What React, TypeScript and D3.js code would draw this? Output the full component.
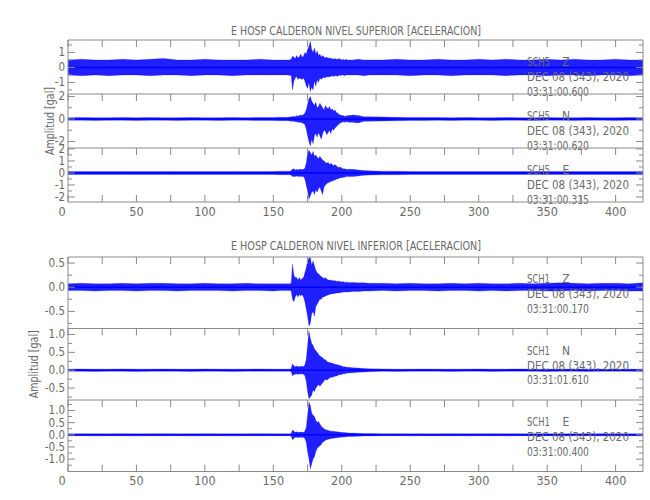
import React from "react";
import * as d3 from "d3";

// ---------- DATA (envelope of each trace, gal) ----------
// time samples (s): 0..150 by 10, 155, 160..205 by 1, 208..220 by 4, 230..420 by 10
const TIME = [
  0, 10, 20, 30, 40, 50, 60, 70, 80, 90, 100, 110, 120, 130, 140, 150, 155,
  160, 161, 162, 163, 164, 165, 166, 167, 168, 169,
  170, 171, 172, 173, 174, 175, 176, 177, 178, 179,
  180, 181, 182, 183, 184, 185, 186, 187, 188, 189,
  190, 191, 192, 193, 194, 195, 196, 197, 198, 199,
  200, 201, 202, 203, 204, 205,
  208, 212, 216, 220,
  230, 240, 250, 260, 270, 280, 290, 300, 310, 320, 330, 340, 350, 360, 370, 380, 390, 400, 410, 420,
];

// SUPERIOR  SCH5 Z
const SUP_Z_MAX = [
  0.5, 0.55, 0.5, 0.5, 0.55, 0.5, 0.55, 0.6, 0.5, 0.5, 0.55, 0.5, 0.5, 0.5, 0.55, 0.5, 0.5,
  0.5, 0.5, 0.5, 0.55, 0.75, 0.7, 0.6, 0.8, 0.65, 0.7,
  0.9, 0.7, 0.75, 1.0, 0.9, 1.2, 1.4, 1.75, 1.2, 1.0,
  1.3, 0.9, 1.1, 0.8, 0.9, 0.7, 0.8, 0.7, 0.65, 0.7,
  0.6, 0.65, 0.6, 0.6, 0.55, 0.6, 0.55, 0.55, 0.6, 0.55,
  0.5, 0.55, 0.5, 0.55, 0.5, 0.5,
  0.5, 0.55, 0.5, 0.5,
  0.5, 0.55, 0.5, 0.5, 0.55, 0.5, 0.5, 0.55, 0.5, 0.55, 0.5, 0.5, 0.55, 0.5, 0.55, 0.5, 0.5, 0.55, 0.5, 0.5,
];
const SUP_Z_MIN = [
  -0.5, -0.55, -0.5, -0.55, -0.5, -0.5, -0.55, -0.5, -0.5, -0.55, -0.5, -0.5, -0.55, -0.5, -0.5, -0.5, -0.5,
  -0.5, -0.5, -0.55, -0.5, -1.5, -0.9, -0.7, -0.6, -0.8, -0.7,
  -0.75, -0.8, -0.7, -0.9, -1.2, -1.4, -1.0, -1.6, -1.3, -1.5,
  -0.9, -1.25, -0.8, -1.0, -0.7, -0.8, -0.7, -0.65, -0.7, -0.6,
  -0.65, -0.6, -0.6, -0.55, -0.6, -0.55, -0.55, -0.6, -0.5, -0.55,
  -0.5, -0.5, -0.55, -0.5, -0.5, -0.5,
  -0.5, -0.5, -0.55, -0.5,
  -0.5, -0.5, -0.55, -0.5, -0.5, -0.55, -0.5, -0.5, -0.5, -0.55, -0.5, -0.5, -0.55, -0.5, -0.5, -0.55, -0.5, -0.5, -0.55, -0.5,
];

// SUPERIOR  SCH5 N
const SUP_N_MAX = [
  0.12, 0.13, 0.12, 0.12, 0.14, 0.12, 0.13, 0.12, 0.12, 0.13, 0.12, 0.12, 0.13, 0.12, 0.13, 0.14, 0.15,
  0.15, 0.15, 0.18, 0.2, 0.2, 0.25, 0.2, 0.3, 0.25, 0.3,
  0.35, 0.3, 0.4, 0.5, 0.8, 1.3, 1.8, 2.0, 1.6, 1.4,
  1.2, 1.5, 1.0, 1.1, 1.4, 1.2, 1.0, 0.8, 1.2, 1.0,
  0.9, 1.1, 0.8, 0.9, 0.7, 0.8, 0.6, 0.5, 0.4, 0.35,
  0.3, 0.3, 0.25, 0.25, 0.3, 0.3,
  0.35, 0.3, 0.2, 0.2,
  0.18, 0.15, 0.14, 0.13, 0.13, 0.12, 0.13, 0.12, 0.12, 0.13, 0.12, 0.12, 0.13, 0.12, 0.12, 0.13, 0.12, 0.12, 0.13, 0.12,
];
const SUP_N_MIN = [
  -0.12, -0.12, -0.13, -0.12, -0.12, -0.13, -0.12, -0.12, -0.13, -0.12, -0.12, -0.13, -0.12, -0.12, -0.13, -0.14, -0.15,
  -0.15, -0.15, -0.18, -0.2, -0.2, -0.2, -0.25, -0.25, -0.3, -0.3,
  -0.3, -0.35, -0.4, -0.5, -0.9, -1.5, -2.0, -2.4, -1.8, -2.2,
  -1.5, -1.3, -1.6, -1.2, -1.5, -1.8, -1.3, -1.0, -1.1, -1.4,
  -1.2, -1.0, -1.3, -0.9, -1.0, -0.8, -0.7, -0.55, -0.45, -0.35,
  -0.3, -0.25, -0.3, -0.25, -0.25, -0.3,
  -0.3, -0.35, -0.2, -0.2,
  -0.18, -0.15, -0.14, -0.13, -0.12, -0.13, -0.12, -0.12, -0.13, -0.12, -0.12, -0.13, -0.12, -0.12, -0.13, -0.12, -0.12, -0.13, -0.12, -0.12,
];

// SUPERIOR  SCH5 E
const SUP_E_MAX = [
  0.12, 0.13, 0.12, 0.12, 0.13, 0.12, 0.12, 0.13, 0.12, 0.12, 0.13, 0.12, 0.12, 0.13, 0.12, 0.13, 0.14,
  0.15, 0.15, 0.15, 0.2, 0.3, 0.35, 0.25, 0.3, 0.25, 0.3,
  0.3, 0.28, 0.3, 0.4, 0.8, 1.6, 1.9, 1.7, 1.5, 1.8,
  1.4, 1.5, 1.3, 1.2, 1.4, 1.2, 1.1, 1.0, 0.9, 0.8,
  0.9, 0.7, 0.8, 0.7, 0.6, 0.7, 0.6, 0.5, 0.45, 0.5,
  0.4, 0.35, 0.35, 0.3, 0.3, 0.3,
  0.3, 0.25, 0.2, 0.18,
  0.15, 0.14, 0.13, 0.12, 0.13, 0.12, 0.12, 0.13, 0.12, 0.12, 0.13, 0.12, 0.12, 0.13, 0.12, 0.12, 0.13, 0.12, 0.12, 0.13,
];
const SUP_E_MIN = [
  -0.12, -0.12, -0.13, -0.12, -0.12, -0.13, -0.12, -0.12, -0.13, -0.12, -0.12, -0.13, -0.12, -0.12, -0.13, -0.13, -0.14,
  -0.15, -0.15, -0.15, -0.2, -0.3, -0.3, -0.3, -0.25, -0.3, -0.28,
  -0.3, -0.3, -0.3, -0.5, -1.0, -1.5, -2.2, -1.9, -1.6, -1.5,
  -1.8, -1.4, -1.6, -1.3, -1.2, -1.5, -1.8, -1.2, -1.0, -0.9,
  -0.8, -0.8, -0.7, -0.7, -0.6, -0.6, -0.5, -0.5, -0.45, -0.4,
  -0.4, -0.35, -0.35, -0.3, -0.3, -0.3,
  -0.3, -0.25, -0.2, -0.18,
  -0.15, -0.14, -0.13, -0.12, -0.12, -0.13, -0.12, -0.12, -0.13, -0.12, -0.12, -0.13, -0.12, -0.12, -0.13, -0.12, -0.12, -0.13, -0.12, -0.12,
];

// INFERIOR  SCH1 Z
const INF_Z_MAX = [
  0.07, 0.08, 0.07, 0.07, 0.08, 0.07, 0.08, 0.08, 0.07, 0.07, 0.08, 0.07, 0.07, 0.08, 0.07, 0.07, 0.07,
  0.07, 0.07, 0.07, 0.08, 0.48, 0.25, 0.2, 0.2, 0.15, 0.2,
  0.15, 0.18, 0.2, 0.3, 0.4, 0.55, 0.6, 0.62, 0.45, 0.55,
  0.45, 0.35, 0.3, 0.28, 0.25, 0.22, 0.2, 0.18, 0.2, 0.17,
  0.15, 0.15, 0.14, 0.15, 0.13, 0.14, 0.12, 0.13, 0.12, 0.12,
  0.11, 0.12, 0.1, 0.11, 0.1, 0.1,
  0.1, 0.09, 0.09, 0.08,
  0.08, 0.07, 0.08, 0.07, 0.07, 0.08, 0.07, 0.08, 0.07, 0.07, 0.08, 0.07, 0.08, 0.09, 0.08, 0.07, 0.08, 0.08, 0.07, 0.09,
];
const INF_Z_MIN = [
  -0.07, -0.07, -0.08, -0.07, -0.07, -0.08, -0.07, -0.07, -0.08, -0.07, -0.07, -0.07, -0.08, -0.07, -0.07, -0.08, -0.07,
  -0.07, -0.07, -0.07, -0.08, -0.25, -0.3, -0.2, -0.15, -0.2, -0.15,
  -0.18, -0.15, -0.2, -0.3, -0.45, -0.6, -0.8, -0.75, -0.55, -0.5,
  -0.6, -0.4, -0.35, -0.3, -0.25, -0.25, -0.2, -0.2, -0.18, -0.17,
  -0.16, -0.15, -0.14, -0.14, -0.13, -0.13, -0.12, -0.12, -0.12, -0.11,
  -0.11, -0.1, -0.1, -0.1, -0.1, -0.1,
  -0.09, -0.09, -0.08, -0.08,
  -0.07, -0.08, -0.07, -0.07, -0.08, -0.07, -0.07, -0.08, -0.07, -0.08, -0.07, -0.07, -0.08, -0.08, -0.07, -0.08, -0.07, -0.07, -0.08, -0.08,
];

// INFERIOR  SCH1 N
const INF_N_MAX = [
  0.03, 0.035, 0.03, 0.03, 0.035, 0.03, 0.03, 0.035, 0.03, 0.03, 0.035, 0.03, 0.03, 0.03, 0.035, 0.03, 0.03,
  0.03, 0.03, 0.03, 0.04, 0.18, 0.12, 0.1, 0.12, 0.1, 0.11,
  0.1, 0.12, 0.1, 0.15, 0.3, 0.7, 1.1, 0.9, 0.75, 0.7,
  0.6, 0.55, 0.5, 0.45, 0.4, 0.38, 0.35, 0.3, 0.3, 0.25,
  0.22, 0.22, 0.2, 0.2, 0.18, 0.17, 0.16, 0.15, 0.14, 0.13,
  0.12, 0.1, 0.1, 0.09, 0.08, 0.08,
  0.07, 0.06, 0.05, 0.04,
  0.035, 0.03, 0.03, 0.035, 0.03, 0.03, 0.03, 0.035, 0.03, 0.03, 0.035, 0.03, 0.03, 0.03, 0.035, 0.03, 0.03, 0.035, 0.03, 0.03,
];
const INF_N_MIN = [
  -0.03, -0.03, -0.035, -0.03, -0.03, -0.035, -0.03, -0.03, -0.03, -0.035, -0.03, -0.03, -0.035, -0.03, -0.03, -0.03, -0.03,
  -0.03, -0.03, -0.03, -0.04, -0.16, -0.12, -0.11, -0.1, -0.12, -0.1,
  -0.11, -0.1, -0.12, -0.15, -0.3, -0.6, -0.8, -0.75, -0.7, -0.55,
  -0.6, -0.5, -0.45, -0.4, -0.45, -0.4, -0.35, -0.3, -0.25, -0.28,
  -0.25, -0.22, -0.2, -0.2, -0.18, -0.17, -0.16, -0.15, -0.13, -0.12,
  -0.12, -0.1, -0.1, -0.09, -0.08, -0.08,
  -0.07, -0.06, -0.05, -0.04,
  -0.03, -0.035, -0.03, -0.03, -0.03, -0.035, -0.03, -0.03, -0.035, -0.03, -0.03, -0.03, -0.035, -0.03, -0.03, -0.035, -0.03, -0.03, -0.03, -0.035,
];

// INFERIOR  SCH1 E
const INF_E_MAX = [
  0.04, 0.045, 0.04, 0.04, 0.045, 0.04, 0.04, 0.045, 0.04, 0.04, 0.045, 0.04, 0.04, 0.04, 0.045, 0.04, 0.04,
  0.04, 0.04, 0.04, 0.05, 0.2, 0.15, 0.1, 0.12, 0.1, 0.1,
  0.11, 0.1, 0.1, 0.15, 0.3, 0.8, 1.35, 1.2, 0.9, 0.8,
  0.75, 0.6, 0.5, 0.55, 0.45, 0.35, 0.3, 0.25, 0.22, 0.2,
  0.18, 0.17, 0.15, 0.15, 0.14, 0.13, 0.12, 0.12, 0.11, 0.1,
  0.1, 0.09, 0.09, 0.08, 0.08, 0.07,
  0.07, 0.06, 0.05, 0.05,
  0.04, 0.045, 0.04, 0.04, 0.04, 0.045, 0.04, 0.04, 0.045, 0.04, 0.04, 0.04, 0.045, 0.04, 0.04, 0.045, 0.04, 0.04, 0.04, 0.045,
];
const INF_E_MIN = [
  -0.04, -0.04, -0.045, -0.04, -0.04, -0.045, -0.04, -0.04, -0.04, -0.045, -0.04, -0.04, -0.045, -0.04, -0.04, -0.04, -0.04,
  -0.04, -0.04, -0.04, -0.05, -0.2, -0.15, -0.1, -0.1, -0.12, -0.1,
  -0.1, -0.11, -0.1, -0.15, -0.3, -0.7, -1.0, -1.4, -1.2, -1.0,
  -0.9, -0.7, -0.55, -0.5, -0.45, -0.4, -0.3, -0.28, -0.22, -0.2,
  -0.18, -0.17, -0.15, -0.15, -0.14, -0.13, -0.12, -0.12, -0.11, -0.1,
  -0.1, -0.09, -0.09, -0.08, -0.08, -0.07,
  -0.07, -0.06, -0.05, -0.05,
  -0.04, -0.04, -0.045, -0.04, -0.04, -0.04, -0.045, -0.04, -0.04, -0.045, -0.04, -0.04, -0.04, -0.045, -0.04, -0.04, -0.045, -0.04, -0.04, -0.04,
];

// ---------- TEXT / TICKS ----------
const TITLES = [
  "E HOSP CALDERON NIVEL SUPERIOR [ACELERACION]",
  "E HOSP CALDERON NIVEL INFERIOR [ACELERACION]",
];
const Y_LABEL = "Amplitud [gal]";
const STATIONS = ["SCH5", "SCH5", "SCH5", "SCH1", "SCH1", "SCH1"];
const COMPONENTS = ["Z", "N", "E", "Z", "N", "E"];
const DATE_LABEL = "DEC 08 (343), 2020";
const START_TIMES = ["03:31:00.600", "03:31:00.620", "03:31:00.315", "03:31:00.170", "03:31:01.610", "03:31:00.400"];
const X_DOMAIN = [0, 420];
const X_TICK_LABELS = [0, 50, 100, 150, 200, 250, 300, 350, 400];
const X_TICKS_ALL = [0, 25, 50, 75, 100, 125, 150, 175, 200, 225, 250, 275, 300, 325, 350, 375, 400];

const Y_DOMAINS = [
  [-1.77, 1.83], [-2.58, 2.22], [-2.42, 2.08],
  [-0.854, 0.625], [-0.833, 1.167], [-1.51, 1.43],
];
const Y_MAJOR = [
  [-1, 0, 1], [-2, 0, 2], [-2, -1, 0, 1, 2],
  [-0.5, 0, 0.5], [-0.5, 0, 0.5, 1.0], [-1.0, -0.5, 0, 0.5, 1.0],
];
const Y_MINOR = [
  [-1.5, -0.5, 0.5, 1.5], [-1, 1], [-1.5, -0.5, 0.5, 1.5],
  [-0.75, -0.25, 0.25], [-0.75, -0.25, 0.25, 0.75], [-1.25, -0.75, -0.25, 0.25, 0.75, 1.25],
];
const Y_FORMATS = ["d", "d", "d", ".1f", ".1f", ".1f"];

const SERIES = [
  [SUP_Z_MAX, SUP_Z_MIN], [SUP_N_MAX, SUP_N_MIN], [SUP_E_MAX, SUP_E_MIN],
  [INF_Z_MAX, INF_Z_MIN], [INF_N_MAX, INF_N_MIN], [INF_E_MAX, INF_E_MIN],
];

// ---------- LAYOUT ----------
const W = 650, H = 500;
const LEFT = 68, RIGHT = 643;
const BLOCKS = [
  { titleY: 30, edges: [40, 94, 148, 202], labelX: 49 },
  { titleY: 245, edges: [257, 328.5, 400, 471.5], labelX: 33 },
];
const AXIS = "#8a8a8a";
const TEXT = "#6a6a6a";
const BLUE = "#0000ff";
const FONT = "'Liberation Sans Narrow', 'DejaVu Sans Condensed', 'Liberation Sans', sans-serif";

export default function App() {
  const x = d3.scaleLinear().domain(X_DOMAIN).range([LEFT, RIGHT]);
  const els: React.ReactNode[] = [];

  BLOCKS.forEach((b, bi) => {
    els.push(
      <text key={`t${bi}`} x={(230 + 482) / 2} y={b.titleY} textAnchor="middle" dominantBaseline="central"
        fontSize={13} fill={TEXT} textLength={250} lengthAdjust="spacingAndGlyphs">{TITLES[bi]}</text>
    );
    const midY = (b.edges[0] + b.edges[3]) / 2;
    els.push(
      <text key={`yl${bi}`} x={b.labelX} y={midY} textAnchor="middle" dominantBaseline="central"
        fontSize={12.5} fill={TEXT} transform={`rotate(-90 ${b.labelX} ${midY})`}
        textLength={68} lengthAdjust="spacingAndGlyphs">{Y_LABEL}</text>
    );

    for (let pi = 0; pi < 3; pi++) {
      const k = bi * 3 + pi;
      const top = b.edges[pi], bottom = b.edges[pi + 1];
      const y = d3.scaleLinear().domain(Y_DOMAINS[k]).range([bottom, top]);
      const [mx, mn] = SERIES[k];
      const n = Math.min(TIME.length, mx.length, mn.length);
      const idx = d3.range(n);
      const area = d3.area<number>()
        .x((i) => x(TIME[i]))
        .y0((i) => y(mn[i]))
        .y1((i) => y(mx[i]));
      const zero = d3.line<number>().x((t) => x(t)).y(() => y(0));
      const clipId = `clip${k}`;
      els.push(
        <g key={`p${k}`}>
          <clipPath id={clipId}>
            <rect x={LEFT} y={top} width={RIGHT - LEFT} height={bottom - top} />
          </clipPath>
          <g clipPath={`url(#${clipId})`}>
            <path d={area(idx) || ""} fill={BLUE} fillOpacity={0.88} stroke={BLUE} strokeWidth={0.4} strokeOpacity={0.6} />
            <path d={zero(X_DOMAIN) || ""} stroke={BLUE} strokeWidth={1.6} fill="none" />
          </g>
          {/* frame */}
          <line x1={LEFT} x2={RIGHT} y1={top} y2={top} stroke={AXIS} strokeWidth={1} />
          <line x1={LEFT} x2={LEFT} y1={top} y2={bottom} stroke={AXIS} strokeWidth={1} />
          <line x1={RIGHT} x2={RIGHT} y1={top} y2={bottom} stroke={AXIS} strokeWidth={1} />
          {/* x ticks at top, pointing down */}
          {X_TICKS_ALL.map((t) => (
            <line key={`xt${t}`} x1={x(t)} x2={x(t)} y1={top} y2={top + 7} stroke={AXIS} strokeWidth={1} />
          ))}
          {/* y ticks */}
          {Y_MAJOR[k].map((v) => (
            <g key={`ym${v}`}>
              <line x1={LEFT} x2={LEFT + 7} y1={y(v)} y2={y(v)} stroke={AXIS} />
              <line x1={RIGHT - 7} x2={RIGHT} y1={y(v)} y2={y(v)} stroke={AXIS} />
              <text x={65} y={y(v)} textAnchor="end" dominantBaseline="central" fontSize={11.5} fill={TEXT}>
                {d3.format(Y_FORMATS[k])(v).replace("−", "-")}
              </text>
            </g>
          ))}
          {Y_MINOR[k].map((v) => (
            <g key={`yn${v}`}>
              <line x1={LEFT} x2={LEFT + 4} y1={y(v)} y2={y(v)} stroke={AXIS} />
              <line x1={RIGHT - 4} x2={RIGHT} y1={y(v)} y2={y(v)} stroke={AXIS} />
            </g>
          ))}
          {/* station labels */}
          <text x={527} y={top + 22} dominantBaseline="central" fontSize={12} fill={TEXT} textLength={23} lengthAdjust="spacingAndGlyphs">{STATIONS[k]}</text>
          <text x={566} y={top + 22} dominantBaseline="central" fontSize={12} fill={TEXT} textAnchor="middle">{COMPONENTS[k]}</text>
          <text x={527} y={top + 37} dominantBaseline="central" fontSize={12} fill={TEXT} textLength={102} lengthAdjust="spacingAndGlyphs">{DATE_LABEL}</text>
          <text x={527} y={top + 51.5} dominantBaseline="central" fontSize={12} fill={TEXT} textLength={62} lengthAdjust="spacingAndGlyphs">{START_TIMES[k]}</text>
        </g>
      );
    }
    // bottom axis
    const yb = b.edges[3];
    els.push(
      <g key={`xa${bi}`}>
        <line x1={LEFT} x2={RIGHT} y1={yb} y2={yb} stroke={AXIS} />
        {X_TICKS_ALL.map((t) => (
          <line key={t} x1={x(t)} x2={x(t)} y1={yb} y2={yb - 7} stroke={AXIS} />
        ))}
        {X_TICK_LABELS.map((t) => (
          <text key={`l${t}`} x={x(t) - (t === 0 ? 6 : 0)} y={yb + 9} textAnchor="middle" dominantBaseline="central"
            fontSize={12.5} fill={TEXT}>{t}</text>
        ))}
      </g>
    );
  });

  return (
    <svg width={W} height={H} viewBox={`0 0 ${W} ${H}`}
      style={{ position: "absolute", left: 0, top: 0, background: "#fff", fontFamily: FONT }}>
      <rect x={0} y={0} width={W} height={H} fill="#fff" />
      {els}
    </svg>
  );
}
